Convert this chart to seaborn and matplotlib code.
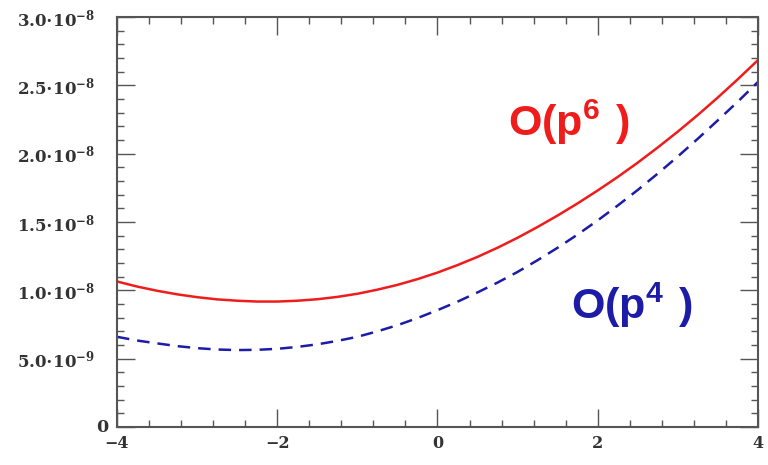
import numpy as np
import pandas as pd
import matplotlib
matplotlib.use('Agg')
import matplotlib.pyplot as plt
import matplotlib.transforms as mtransforms
import seaborn as sns
from matplotlib.ticker import MultipleLocator

# values (y in units of 1e-8)
x_vals = [-4.0, -3.75, -3.5, -3.25, -3.0, -2.75, -2.5, -2.25, -2.0, -1.75, -1.5,
          -1.25, -1.0, -0.75, -0.5, -0.25, 0.0, 0.25, 0.5, 0.75, 1.0, 1.25,
          1.5, 1.75, 2.0, 2.25, 2.5, 2.75, 3.0, 3.25, 3.5, 3.75, 4.0]
p6_vals = [1.065, 1.028, 0.997, 0.971, 0.950, 0.934, 0.924, 0.918, 0.918, 0.924, 0.935,
           0.952, 0.975, 1.005, 1.040, 1.082, 1.130, 1.185, 1.245, 1.312, 1.385, 1.464,
           1.548, 1.637, 1.731, 1.830, 1.935, 2.046, 2.162, 2.284, 2.412, 2.546, 2.685]
p4_vals = [0.660, 0.633, 0.612, 0.592, 0.577, 0.567, 0.563, 0.565, 0.572, 0.586, 0.605,
           0.630, 0.660, 0.700, 0.745, 0.797, 0.855, 0.917, 0.985, 1.057, 1.135, 1.221,
           1.312, 1.409, 1.512, 1.621, 1.735, 1.855, 1.980, 2.110, 2.245, 2.382, 2.525]

y_ticks = [0, 0.5e-8, 1.0e-8, 1.5e-8, 2.0e-8, 2.5e-8, 3.0e-8]
y_tick_labels = ['0', r'$5.0{\cdot}10^{-9}$', r'$1.0{\cdot}10^{-8}$', r'$1.5{\cdot}10^{-8}$',
                 r'$2.0{\cdot}10^{-8}$', r'$2.5{\cdot}10^{-8}$', r'$3.0{\cdot}10^{-8}$']
x_ticks = [-4, -2, 0, 2, 4]
x_tick_labels = ['\u22124', '\u22122', '0', '2', '4']

df = pd.DataFrame({
    'x': x_vals * 2,
    'y': [v * 1e-8 for v in p6_vals] + [v * 1e-8 for v in p4_vals],
    'order': ['p6'] * len(x_vals) + ['p4'] * len(x_vals),
})

sns.set_style('ticks')
plt.rcParams['mathtext.fontset'] = 'custom'
plt.rcParams['mathtext.rm'] = 'DejaVu Serif:bold'
plt.rcParams['mathtext.sf'] = 'Liberation Sans:bold'
plt.rcParams['mathtext.it'] = 'DejaVu Serif:bold'
plt.rcParams['font.family'] = ['DejaVu Serif', 'DejaVu Sans']

fig = plt.figure(figsize=(7.68, 4.65), dpi=100)
ax = fig.add_axes([0.1523, 0.0817, 0.8347, 0.8817])

red = '#f01c1c'
blue = '#1c1ca8'
sns.lineplot(data=df[df.order == 'p6'], x='x', y='y', color=red, lw=1.8, ax=ax)
sns.lineplot(data=df[df.order == 'p4'], x='x', y='y', color=blue, lw=1.8,
             linestyle=(0, (5, 3.2)), ax=ax)

ax.set_xlim(-4, 4)
ax.set_ylim(0, 3.0e-8)
ax.set_xticks(x_ticks)
ax.set_xticklabels(x_tick_labels, fontweight='bold', fontsize=11.5, color='#333333')
ax.set_yticks(y_ticks)
# "0" sits closer to the axis than the exponent labels, so draw it on its own
ax.set_yticklabels([''] + y_tick_labels[1:], fontsize=12, fontweight='bold', color='#333333')
zero_tf = mtransforms.blended_transform_factory(ax.transAxes, ax.transData)
ax.text(-0.014, y_ticks[0], y_tick_labels[0], transform=zero_tf, ha='right', va='center',
        fontsize=12.5, fontweight='bold', color='#333333')
ax.xaxis.set_minor_locator(MultipleLocator(0.4))
ax.yaxis.set_minor_locator(MultipleLocator(0.1e-8))
ax.tick_params(which='major', direction='in', length=13, width=1.0, color='#555555',
               top=True, right=True)
ax.tick_params(axis='y', which='major', pad=16)
ax.tick_params(axis='x', which='major', pad=6)
ax.tick_params(which='minor', direction='in', length=5, width=1.0, color='#555555',
               top=True, right=True)
for sp in ax.spines.values():
    sp.set_linewidth(1.5)
    sp.set_color('#555555')
ax.set_xlabel('')
ax.set_ylabel('')

ax.text(1.64, 2.23e-8, r'$\mathsf{O(p^{6}\ )}$', color=red, fontsize=31,
        ha='center', va='center')
ax.text(2.43, 0.89e-8, r'$\mathsf{O(p^{4}\ )}$', color=blue, fontsize=31,
        ha='center', va='center')

fig.savefig('out.png', dpi=100)
